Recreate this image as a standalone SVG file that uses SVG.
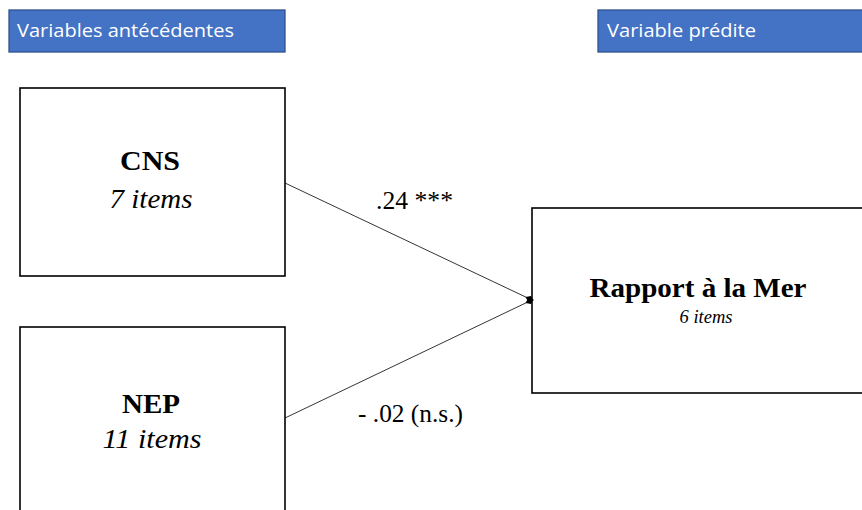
<svg xmlns="http://www.w3.org/2000/svg" width="862" height="510" viewBox="0 0 862 510">
<style>
.hdr{fill:#4472C4;stroke:#2F528F;stroke-width:1.3}
.htxt{font-family:"Open Sans","Liberation Sans",sans-serif;font-size:18px;fill:#fff}
.box{fill:#fff;stroke:#000;stroke-width:1.6}
.bold{font-family:"Liberation Serif","Times New Roman",serif;font-weight:bold;font-size:28px;fill:#000;text-anchor:middle}
.ital{font-family:"Liberation Serif","Times New Roman",serif;font-style:italic;font-size:28px;fill:#000;text-anchor:middle}
.lbl{font-family:"Liberation Serif","Times New Roman",serif;font-size:25px;fill:#000}
.conn{stroke:#000;stroke-width:0.8;fill:none;marker-end:url(#dia)}
</style>
<defs>
<marker id="dia" viewBox="0 0 10 10" refX="8" refY="5" markerWidth="9" markerHeight="9" orient="auto" markerUnits="userSpaceOnUse">
<path d="M0,5 L5,1.5 L10,5 L5,8.5 Z" fill="#000"/>
</marker>
</defs>
<rect width="862" height="510" fill="#fff"/>
<g id="hdr-antecedentes">
<rect class="hdr" x="9" y="10" width="276" height="42"/>
<text class="htxt" x="17" y="37" textLength="217" lengthAdjust="spacingAndGlyphs">Variables antécédentes</text>
</g>
<g id="hdr-predite">
<rect class="hdr" x="598" y="10" width="270" height="42"/>
<text class="htxt" x="607" y="37" textLength="149" lengthAdjust="spacingAndGlyphs">Variable prédite</text>
</g>
<g id="cns">
<rect class="box" x="20" y="88" width="265" height="188"/>
<text class="bold" x="150" y="170" textLength="60" lengthAdjust="spacingAndGlyphs">CNS</text>
<text class="ital" x="151" y="208" textLength="83" lengthAdjust="spacingAndGlyphs">7 items</text>
</g>
<g id="nep">
<rect class="box" x="20" y="327" width="265" height="200"/>
<text class="bold" x="151" y="413" textLength="58" lengthAdjust="spacingAndGlyphs">NEP</text>
<text class="ital" x="152" y="448" textLength="99" lengthAdjust="spacingAndGlyphs">11 items</text>
</g>
<g id="rapport">
<rect class="box" x="532" y="208" width="340" height="185"/>
<text class="bold" x="698" y="297" textLength="217" lengthAdjust="spacingAndGlyphs">Rapport à la Mer</text>
<text class="ital" x="706" y="323" style="font-size:18.5px" textLength="53" lengthAdjust="spacingAndGlyphs">6 items</text>
</g>
<g id="connectors">
<line class="conn" x1="285" y1="183" x2="532" y2="300"/>
<line class="conn" x1="285" y1="418" x2="532" y2="300"/>
<text class="lbl" x="376" y="209" textLength="77" lengthAdjust="spacingAndGlyphs">.24 ***</text>
<text class="lbl" x="358" y="422" textLength="105" lengthAdjust="spacingAndGlyphs">- .02 (n.s.)</text>
</g>
</svg>
